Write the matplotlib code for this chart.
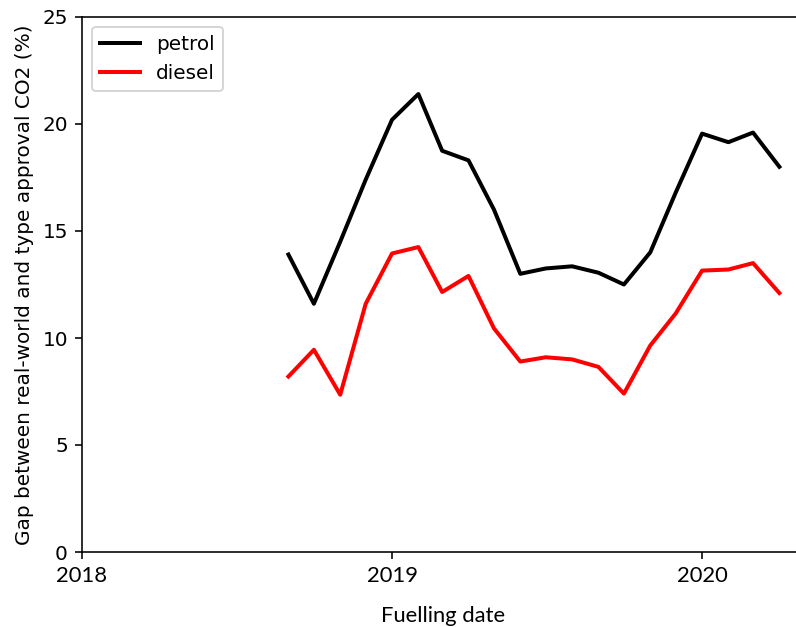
import numpy as np
import matplotlib
matplotlib.use("Agg")
import matplotlib.pyplot as plt
import matplotlib.dates as mdates

# Monthly fuelling periods
months = ["2018-09", "2018-10", "2018-11", "2018-12",
          "2019-01", "2019-02", "2019-03", "2019-04", "2019-05", "2019-06",
          "2019-07", "2019-08", "2019-09", "2019-10", "2019-11", "2019-12",
          "2020-01", "2020-02", "2020-03", "2020-04"]

# Gap between real-world and type-approval CO2 (%)
petrol = [13.9, 11.6, 14.5, 17.4, 20.2, 21.4, 18.75, 18.3, 16.0, 13.0,
          13.25, 13.35, 13.05, 12.5, 14.0, 16.8, 19.55, 19.15, 19.6, 18.0]
diesel = [8.2, 9.45, 7.35, 11.6, 13.95, 14.25, 12.15, 12.9, 10.45, 8.9,
          9.1, 9.0, 8.65, 7.4, 9.65, 11.15, 13.15, 13.2, 13.5, 12.1]

dates = np.array(months, dtype="datetime64[M]").astype("datetime64[D]")

DPI = 144
fig = plt.figure(figsize=(796 / DPI, 627 / DPI), dpi=DPI)
ax = fig.add_axes([82 / 796, 75 / 627, 722 / 796, 535 / 627])

ax.plot(dates, petrol, color="black", lw=2.0, label="petrol")
ax.plot(dates, diesel, color="red", lw=2.0, label="diesel")

ax.set_xlim(np.datetime64("2018-01-01"), np.datetime64("2020-04-30"))
ax.set_ylim(0, 25)
ax.set_yticks([0, 5, 10, 15, 20, 25])
ax.xaxis.set_major_locator(mdates.YearLocator())
ax.xaxis.set_major_formatter(mdates.DateFormatter("%Y"))
for lbl in ax.get_xticklabels():
    lbl.set_fontfamily("Lato")
    lbl.set_fontsize(11)

ax.set_xlabel("Fuelling date", family="Lato", fontsize=11, labelpad=10)
ax.set_ylabel("Gap between real-world and type approval CO2 (%)")
ax.legend(loc="upper left")

fig.savefig("out.png", dpi=DPI)
